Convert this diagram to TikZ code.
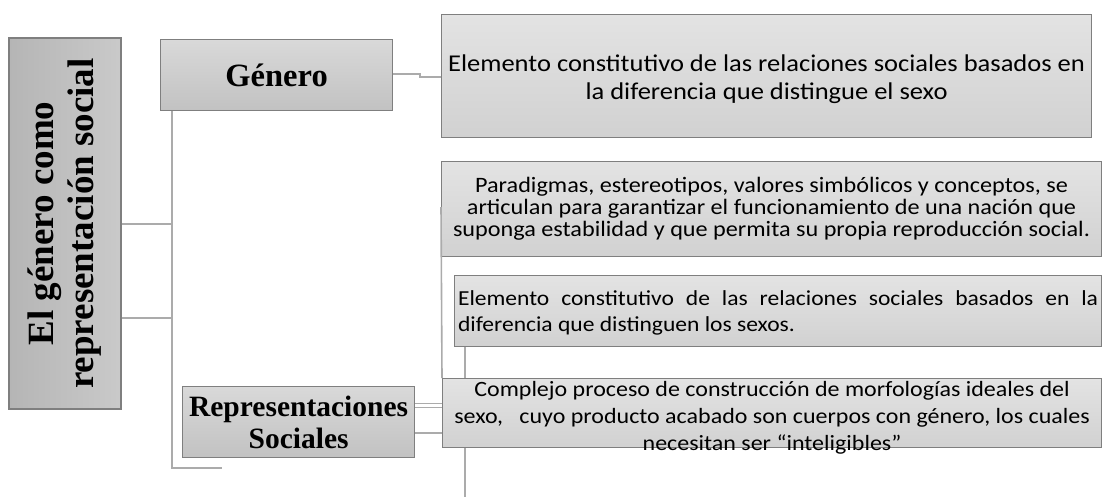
\documentclass[tikz,border=0pt]{standalone}
\usepackage{fontspec}
\setmainfont{Liberation Serif}
\newfontfamily\calibrifont[FakeStretch=1.1]{Carlito}
\usetikzlibrary{positioning}

\definecolor{boxline}{HTML}{7F7F7F}
\definecolor{linkgray}{HTML}{ABABAB}

\begin{document}
\begin{tikzpicture}[x=1pt, y=-1pt,
  rootbox/.style={draw=boxline, line width=1.2pt, rotate=90,
    left color=black!29, right color=black!21,
    minimum width=371pt, minimum height=112pt, inner sep=0pt, align=center,
    font=\fontsize{37}{40}\selectfont\bfseries},
  mainbox/.style={draw=boxline, line width=1.2pt, anchor=north west,
    top color=black!15, bottom color=black!24,
    minimum width=232pt, minimum height=71pt, inner sep=0pt, align=center,
    font=\fontsize{29.5}{32}\selectfont\bfseries},
  infobox/.style={draw=boxline, line width=1.1pt, anchor=north west,
    top color=black!11, bottom color=black!18, inner sep=0pt},
  link/.style={draw=linkgray, line width=1.6pt}]

\useasboundingbox (0,0) rectangle (1102,497);

\node[rootbox] (root) at (65,223.5) {El género como\\representación social};
\node[mainbox, font=\fontsize{32.5}{34}\selectfont\bfseries] (genero) at (160,39) {Género};
\node[mainbox] (repsoc) at (182,386) {Representaciones\\Sociales};

\node[infobox, minimum width=650pt, minimum height=123pt,
  font=\calibrifont\fontsize{24.1}{28}\selectfont] (def) at (441,14)
  {\parbox[c][123pt][c]{650pt}{\centering\vspace*{6pt}
   Elemento constitutivo de las relaciones sociales basados en\\
   la diferencia que distingue el sexo}};
\node[infobox, minimum width=660pt, minimum height=95pt, align=center,
  font=\calibrifont\fontsize{22}{22}\selectfont] (paradigma) at (441,161)
  {Paradigmas, estereotipos, valores simbólicos y conceptos, se\\
   articulan para garantizar el funcionamiento de una nación que\\
   suponga estabilidad y que permita su propia reproducción social.};
\node[infobox, minimum width=647pt, minimum height=71pt,
  font=\calibrifont\fontsize{21.4}{26}\selectfont] (elemento) at (454,275)
  {\parbox[c][71pt][c]{640pt}{\vspace*{4pt}Elemento constitutivo de las relaciones sociales basados en la\linebreak
   diferencia que distinguen los sexos.}};
\node[infobox, minimum width=659pt, minimum height=69pt,
  font=\calibrifont\fontsize{21.8}{27}\selectfont] (complejo) at (442,378)
  {\parbox[c][69pt][c]{659pt}{\centering\vspace*{10pt}
   Complejo proceso de construcción de morfologías ideales del\\
   sexo,\ \ \ cuyo producto acabado son cuerpos con género, los cuales\\
   necesitan ser “inteligibles”}};

% ramas del nodo principal
\coordinate (trunk) at (172,468);
\coordinate (trunkend) at (222,468);
\draw[link] (root.south |- 0,224) -- (172,224);
\draw[link] (root.south |- 0,318) -- (172,318);
\draw[link] (genero.south west -| 172,0) -- (trunk) -- (trunkend);

% genero y representaciones
\draw[link] (genero.east |- 0,74) -- (420,74) -- (420,77) -- (def.west |- 0,77);
\draw[link] (paradigma.west |- 0,207) -- (complejo.north west);
\draw[link] (elemento.south west -| 465,0) -- (complejo.north west -| 465,0);
\coordinate (tail) at (465,497);
\draw[link] (complejo.south west -| 465,0) -- (tail);
\draw[link, line width=1pt] (repsoc.east |- 0,403) -- (complejo.west |- 0,403);
\draw[link, line width=1pt] (repsoc.east |- 0,407) -- (complejo.west |- 0,407);
\draw[link] (repsoc.east |- 0,433) -- (complejo.west |- 0,433);

\end{tikzpicture}
\end{document}
